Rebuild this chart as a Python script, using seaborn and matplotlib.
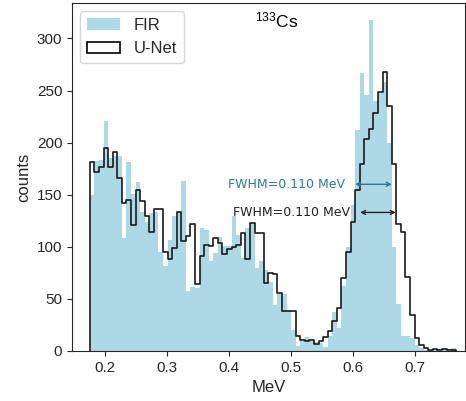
import numpy as np
import pandas as pd
import matplotlib
matplotlib.use("Agg")
import matplotlib.pyplot as plt
from matplotlib.patches import Patch
import seaborn as sns

# === Histogram data (80 bins, counts) === #
bin_lo, bin_hi, n_bins = 0.175, 0.766, 80

fir_counts = [
    150, 182, 183, 221, 185, 187, 187, 108, 181, 151,
    162, 133, 124, 132, 133, 95, 82, 107, 130, 133,
    163, 58, 61, 60, 118, 116, 86, 94, 109, 101,
    101, 130, 111, 89, 118, 123, 80, 86, 78, 66,
    44, 55, 55, 38, 20, 5, 10, 13, 10, 9,
    8, 4, 14, 37, 22, 62, 100, 140, 212, 267,
    246, 318, 240, 248, 258, 200, 100, 45, 14, 14,
    12, 6, 3, 1, 0, 1, 0, 1, 0, 3,
]

unet_counts = [
    181, 172, 177, 195, 177, 191, 166, 142, 145, 121,
    155, 144, 130, 114, 136, 136, 95, 88, 99, 133,
    106, 110, 122, 64, 91, 102, 101, 108, 104, 93,
    98, 100, 102, 113, 88, 123, 113, 113, 65, 75,
    74, 56, 38, 38, 38, 14, 11, 10, 11, 7,
    10, 13, 19, 29, 41, 70, 95, 124, 155, 179,
    203, 213, 228, 249, 268, 235, 179, 122, 114, 71,
    35, 12, 6, 3, 1, 2, 1, 2, 1, 1,
]

# FWHM annotations: (counts level, left MeV, right MeV)
fwhm_fir = (160, 0.6034, 0.6627)
fwhm_unet = (133, 0.6115, 0.6691)
fwhm_text = "FWHM=0.110 MeV"

edges = np.linspace(bin_lo, bin_hi, n_bins + 1)
centers = (edges[:-1] + edges[1:]) / 2
df = pd.DataFrame({"MeV": centers, "FIR": fir_counts, "U-Net": unet_counts})

# === Style === #
sns.set_style("ticks")
plt.rcParams["font.family"] = ["Liberation Sans", "DejaVu Sans"]
plt.rcParams["mathtext.default"] = "regular"

fig, ax = plt.subplots(figsize=(4.66, 4.01), dpi=100)
fig.subplots_adjust(left=0.1545, right=0.998, bottom=0.1247, top=0.9925)

sns.histplot(data=df, x="MeV", weights="FIR", bins=n_bins, binrange=(bin_lo, bin_hi),
             color="lightblue", alpha=1, linewidth=0, edgecolor="none", ax=ax)
sns.histplot(data=df, x="MeV", weights="U-Net", bins=n_bins, binrange=(bin_lo, bin_hi),
             element="step", fill=False, color="#1a1a1a", linewidth=1.2, ax=ax)
# close the outline down to zero at both ends, like a step histogram
ax.vlines([edges[0], edges[-1]], 0, [unet_counts[0], unet_counts[-1]],
          color="#1a1a1a", linewidth=1.2)

# === FWHM arrows === #
teal = "#2c7a98"
for (lvl, x0, x1), col in [(fwhm_fir, teal), (fwhm_unet, "#222222")]:
    ax.annotate("", xy=(x1, lvl), xytext=(x0, lvl),
                arrowprops=dict(arrowstyle="<->", color=col, lw=1,
                                shrinkA=0, shrinkB=0, mutation_scale=7))
    ax.text(x0 - 0.016, lvl, fwhm_text, color=col, ha="right", va="center",
            fontsize=9, family="DejaVu Sans")

ax.text(0.52, 0.951, "$^{133}$Cs", transform=ax.transAxes, ha="center",
        va="center", fontsize=12.5, color="black")

handles = [Patch(facecolor="lightblue", edgecolor="none", label="FIR"),
           Patch(facecolor="white", edgecolor="black", linewidth=1.2, label="U-Net")]
ax.legend(handles=handles, loc="upper left", fontsize=12, frameon=True)

ax.set_xlim(0.1462, 0.781)
ax.set_ylim(0, 334)
ax.set_xticks([0.2, 0.3, 0.4, 0.5, 0.6, 0.7])
ax.set_yticks([0, 50, 100, 150, 200, 250, 300])
ax.tick_params(labelsize=11)
ax.set_xlabel("MeV", fontsize=12)
ax.set_ylabel("counts", fontsize=12)

plt.savefig("out.png", dpi=100)
plt.close()
